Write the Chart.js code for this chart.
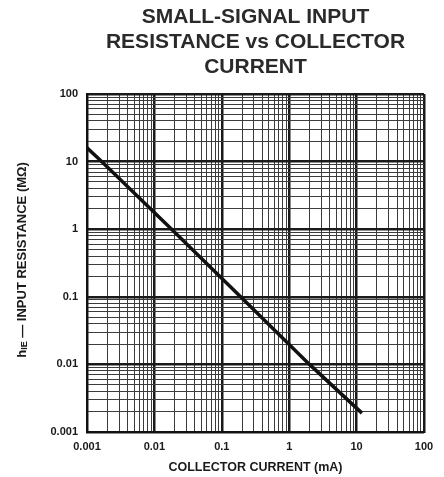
<!DOCTYPE html>
<html>
<head>
<meta charset="utf-8">
<script src="https://cdn.jsdelivr.net/npm/chart.js@4.4.0/dist/chart.umd.min.js"></script>
<style>
    html, body { margin: 0; padding: 0; background: #fff; }
    #wrap { width: 444px; height: 477px; }
</style>
</head>
<body>
<div id="wrap"><canvas id="hieChart"></canvas></div>
<script>
// Données
const titleLines = ['SMALL-SIGNAL INPUT', 'RESISTANCE vs COLLECTOR', 'CURRENT'];
const currentMA = [0.001, 0.00165, 0.018, 0.19, 2.0, 12];
const resistanceMOhm = [16, 10, 1, 0.1, 0.01, 0.0019];
const xTickValues = [0.001, 0.01, 0.1, 1, 10, 100];
const xTickLabels = ['0.001', '0.01', '0.1', '1', '10', '100'];
const yTickValues = [0.001, 0.01, 0.1, 1, 10, 100];
const yTickLabels = ['0.001', '0.01', '0.1', '1', '10', '100'];
const xTitle = 'COLLECTOR CURRENT (mA)';
const yTitleParts = ['h', 'IE', '\u2014 INPUT RESISTANCE (M\u03A9)'];

const FONT = "'Liberation Sans', Arial, Helvetica, sans-serif";

// Lignes de grille 1..9 par décade
function gridValues(decades) {
    const out = [];
    for (let i = 0; i < decades.length - 1; i++) {
        for (let k = 1; k <= 9; k++) {
            out.push(Number((decades[i] * k).toPrecision(6)));
        }
    }
    out.push(decades[decades.length - 1]);
    return out;
}

function labelFor(values, labels, v) {
    const i = values.findIndex(t => Math.abs(Math.log10(t) - Math.log10(v)) < 1e-6);
    return i >= 0 ? labels[i] : '';
}

function isMajor(values, v) {
    return values.some(t => Math.abs(Math.log10(t) - Math.log10(v)) < 1e-6);
}

function logAxis(values, labels) {
    return {
        type: 'logarithmic',
        min: values[0],
        max: values[values.length - 1],
        afterBuildTicks: (axis) => {
            axis.ticks = gridValues(values).map(v => ({ value: v }));
        },
        ticks: {
            autoSkip: false,
            maxRotation: 0,
            color: '#1a1a1a',
            font: { family: FONT, size: 11, weight: 'bold' },
            callback: (val) => labelFor(values, labels, val)
        },
        grid: {
            drawTicks: false,
            color: (ctx) => ctx.tick && isMajor(values, ctx.tick.value) ? '#1a1a1a' : '#3c3c3c',
            lineWidth: (ctx) => ctx.tick && isMajor(values, ctx.tick.value) ? 2.5 : 1
        },
        border: { display: true, color: '#111', width: 2 }
    };
}

// Titre de l'axe Y avec indice "IE"
const yTitlePlugin = {
    id: 'yTitle',
    afterDraw(chart) {
        const { ctx, chartArea } = chart;
        const main = 'bold 13px ' + FONT;
        const sub = 'bold 9px ' + FONT;
        ctx.save();
        ctx.font = main;
        const w0 = ctx.measureText(yTitleParts[0]).width;
        const w2 = ctx.measureText(' ' + yTitleParts[2]).width;
        ctx.font = sub;
        const w1 = ctx.measureText(yTitleParts[1]).width;
        const total = w0 + w1 + w2;
        ctx.translate(22, (chartArea.top + chartArea.bottom) / 2 - 3);
        ctx.rotate(-Math.PI / 2);
        ctx.fillStyle = '#1a1a1a';
        ctx.textBaseline = 'middle';
        ctx.textAlign = 'left';
        let x = -total / 2;
        ctx.font = main;
        ctx.fillText(yTitleParts[0], x, 0);
        x += w0;
        ctx.font = sub;
        ctx.fillText(yTitleParts[1], x, 3);
        x += w1;
        ctx.font = main;
        ctx.fillText(' ' + yTitleParts[2], x, 0);
        ctx.restore();
    }
};

const xScale = logAxis(xTickValues, xTickLabels);
xScale.ticks.padding = 8;
xScale.title = {
    display: true,
    text: xTitle,
    color: '#1a1a1a',
    font: { family: FONT, size: 12.5, weight: 'bold', lineHeight: 1.2 },
    padding: { top: 0, bottom: 1.5 }
};
xScale.afterFit = (axis) => { axis.height = 45; };

const yScale = logAxis(yTickValues, yTickLabels);
yScale.ticks.padding = 9;
yScale.afterFit = (axis) => { axis.width = 87; };

const chartConfig = {
    type: 'line',
    data: {
        datasets: [{
            data: currentMA.map((x, i) => ({ x: x, y: resistanceMOhm[i] })),
            borderColor: '#111',
            borderWidth: 3.5,
            pointRadius: 0,
            tension: 0,
            fill: false
        }]
    },
    options: {
        responsive: true,
        maintainAspectRatio: false,
        animation: false,
        layout: { padding: { left: 0, right: 20, top: 0, bottom: 0 } },
        scales: { x: xScale, y: yScale },
        plugins: {
            legend: { display: false },
            tooltip: { enabled: false },
            title: {
                display: true,
                text: titleLines,
                fullSize: false,
                color: '#2a2a2a',
                font: { family: FONT, size: 21, weight: 'bold', lineHeight: '25px' },
                padding: { top: 5, bottom: 14 }
            }
        }
    },
    plugins: [yTitlePlugin]
};

document.addEventListener('DOMContentLoaded', function () {
    const canvas = document.getElementById('hieChart');
    new Chart(canvas, chartConfig);
});
</script>
</body>
</html>
